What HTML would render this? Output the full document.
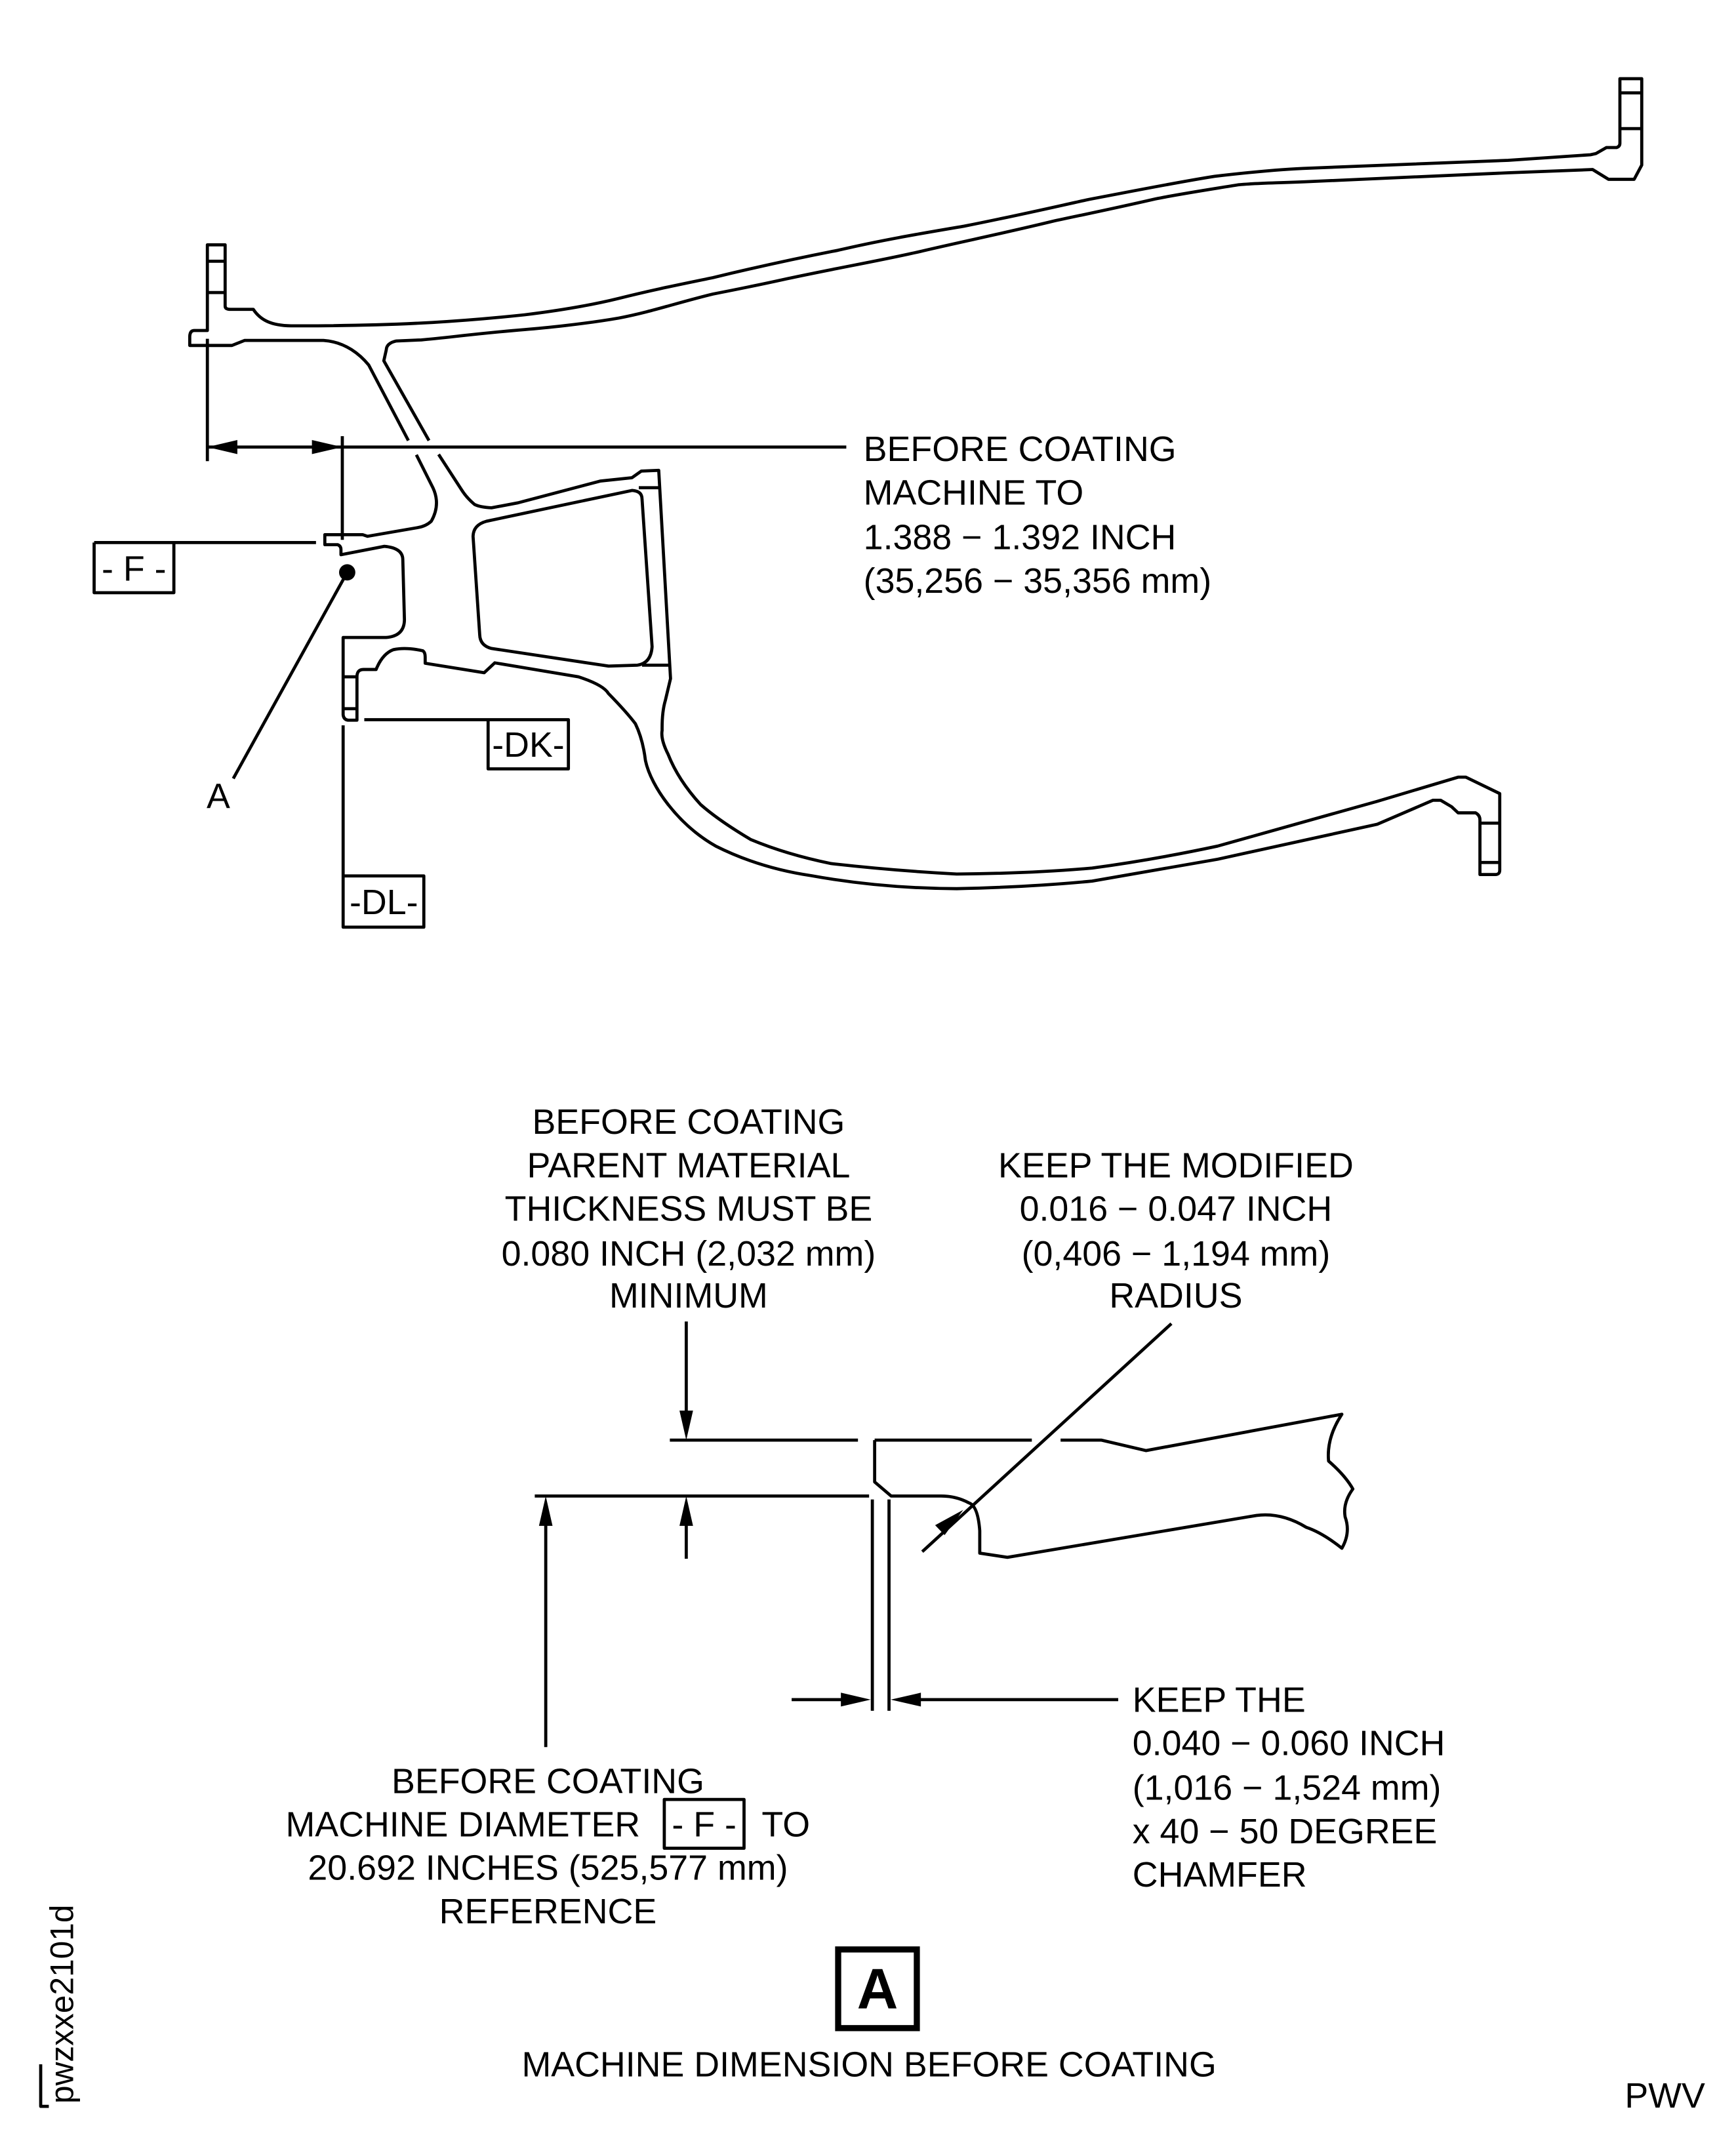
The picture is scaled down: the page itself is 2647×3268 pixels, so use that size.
<!DOCTYPE html>
<html><head><meta charset="utf-8"><style>
html,body{margin:0;padding:0;background:#fff;}
svg{display:block;}
text{font-family:"Liberation Sans",Arial,sans-serif;font-size:26px;fill:#000;}
</style></head><body>
<svg width="2647" height="3268" viewBox="0 0 1280 1580" preserveAspectRatio="none" xmlns="http://www.w3.org/2000/svg">
<g fill="none" stroke="#000" stroke-width="2.3" stroke-linejoin="round">
<!-- upper skin -->
<path d="M301.1,324.8 L271.9,269.2 C266,262 255,252 238.5,251 L180.3,251 L171,254.7 L139.9,254.7 L139.9,248.2 Q140,243.7 143.3,243.7 L152.9,243.7 L152.9,180.5 L166,180.5 L166,225.7 Q166,228.1 170.1,228.1 L186.8,228.1 C192,236 200,240 214.5,240.2 C300,240.5 350,236 386.8,232.1 C420,228 440,224 456.2,220 C480,214 500,210 525.6,204.7 C570,194 600,188 618,184.5 C650,177 680,172 710.6,166.8 C750,159 780,152 803,147 C840,140 870,134 895.6,130 C930,126 950,124.5 965,124 L1112,118.2 L1172.7,114.1 L1176.7,113.2 L1184.4,108.8 L1192,108.8 Q1194.4,108 1194.4,105.6 L1194.4,58 L1210.5,58 L1210.5,121.7 L1204.9,132.2 L1186,132.2 L1174.3,125 L1112,127.4 L967,133.8 C940,135 925,135 913.3,136.2 C890,140 870,143 851.7,146.7 C820,154 800,158 777.7,162.8 C740,172 710,178 679,185.3 C650,192 620,197 580.3,205.5 C560,210 540,214 525.6,216.8 C500,223 480,230 456.2,234.5 C430,239 400,242 386.8,243 C350,246 330,249 310.7,250.6 L292.2,251.4 Q285,253 284.8,258 L283,266 L316.3,324.8"/>
<path d="M152.9,192.6 H166 M152.9,215.7 H166 M1194.4,68.5 H1210.5 M1194.4,94.8 H1210.5"/>
<!-- lower body -->
<path d="M307,335.3 L319.2,359.6 Q325,372 318,384.3 Q314,388 308,389 L271,395.4 L267.4,394.2 L239.5,394.2 L239.5,401.6 L249,401.6 Q251.4,402.5 251.4,405.3 L251.4,409 L283.4,402.8 Q297,404 297,412.7 L298.2,457 Q298,469 284.7,470 L253,470 L253,527 Q253.5,531 257.5,531 L263.2,531 L263.2,499 Q263.2,493.6 268,493.6 L277.3,493.6 Q282,482 290,479 Q299,477 311.8,479.8 Q313.5,481 313.5,484.3 L313.5,489 L357,496 L364.8,488.7 L426.5,499 Q445,505 448.7,511.4 Q462,525 468.5,533.6 Q474,545 475.9,560.7 C480,580 500,608 527.7,623.8 Q560,640 598,645.6 Q650,655 705.4,655.2 Q760,654 805.3,649.6 Q850,642 897.8,633.5 L1015.5,607.7 L1056.6,590 L1062.2,590 L1070.3,594.8 L1075.1,599.3 L1088,599.3 Q1091.2,601 1091.2,604.5 L1091.2,644.8 L1102.5,644.8 Q1105.8,644.8 1105.8,641.5 L1105.8,585.1 L1080.8,573 L1075.1,573 L1015.5,590.8 L897.8,623.8 Q850,634 805.3,640 Q760,644 705.4,644.4 Q660,642 612.8,636.7 Q580,630 553.6,619 Q530,605 516.6,593.2 Q500,575 492.6,556.1 Q487,545 488.2,538.5 Q488,525 490.6,516.3 L494.4,500.3 L485.7,346.8 L472.9,347.3 L466,352.2 L442.5,354.7 L382,370.7 L362.4,374.4 Q354,374 350,372 Q344,367 340.2,360.9 L323.4,335"/>
<path d="M253,499 H263.2 M253,522.5 H263.2 M471,359.6 H485.7 M473.4,490.4 H493.1 M1091.2,606.9 H1105.8 M1091.2,635.9 H1105.8"/>
<path d="M348.8,395.4 Q349,387 358.7,384.3 L466,361.6 Q473.4,362 473.4,368 L480.8,476.8 Q480,489 470,490.4 L448.7,491.1 L362.4,478.1 Q354,476 353.7,468 Z"/>
<!-- dims top -->
<path d="M152.9,249.8 V340 M152.9,329.6 H624 M252.4,321.6 V398"/>
<path d="M69.4,400 H233 M69.4,400 V437 H128.2 V400"/>
<path d="M256,422 L172,574"/>
<path d="M268.6,530.6 H419.1 V566.9 H359.9 V530.6"/>
<path d="M253,534.8 V683.6 H312.5 V645.8 H253"/>
<!-- detail view -->
<path d="M493.9,1061.8 H632.6 M644.9,1061.8 H760.8 M782,1061.8 H812.2 L844.9,1069.5 L989.4,1042.7 Q978,1060 979.6,1077.2 Q992,1088 997.5,1097.8 Q990,1108 991.8,1118.4 Q996,1130 989.4,1141.5 Q975,1130 963,1126 Q945,1115 926.5,1117.3 L742.8,1148.2 L722.4,1145.1 L722.4,1128.6 Q721,1110 714.3,1108 Q705,1103 693.9,1103 L657.1,1103 L644.9,1092.6 L644.9,1061.8"/>
<path d="M394.3,1103 H640.8 M643.2,1105.5 V1261.3 M655.5,1105.5 V1261.3"/>
<path d="M583.7,1253.1 H630 M824.5,1253.1 H668 M506,974.3 V1050 M506,1149.2 V1116 M402.4,1288.1 V1116 M863.7,975.9 L680,1144"/>
<path d="M489.8,1326.7 H548.6 V1362.7 H489.8 Z"/>
<path d="M30,1522 V1553 H36"/>
</g>
<g fill="#000" stroke="none">
<polygon points="152.9,329.6 175,324.4 175,334.8"/>
<polygon points="252.4,329.6 230,324.4 230,334.8"/>
<circle cx="256" cy="422" r="6"/>
<polygon points="506,1061.8 501,1040 511,1040"/>
<polygon points="506,1103 501,1125 511,1125"/>
<polygon points="402.4,1103 397.4,1125 407.4,1125"/>
<polygon points="642,1253.1 620,1248 620,1258.2"/>
<polygon points="656.7,1253.1 679,1248 679,1258.2"/>
<polygon points="710.2,1113.2 689.5,1124.5 696.5,1131.8"/>
</g>
<rect x="618" y="1437.3" width="58" height="58" fill="none" stroke="#000" stroke-width="4.5"/>
<text x="636.7" y="340">BEFORE COATING</text>
<text x="636.7" y="372">MACHINE TO</text>
<text x="636.7" y="405">1.388 − 1.392 INCH</text>
<text x="636.7" y="437">(35,256 − 35,356 mm)</text>
<text x="98.8" y="428" text-anchor="middle">- F -</text>
<text x="389.5" y="558" text-anchor="middle">-DK-</text>
<text x="283" y="674" text-anchor="middle">-DL-</text>
<text x="161" y="596" text-anchor="middle">A</text>
<g text-anchor="middle">
<text x="507.7" y="836">BEFORE COATING</text>
<text x="507.7" y="868">PARENT MATERIAL</text>
<text x="507.7" y="900">THICKNESS MUST BE</text>
<text x="507.7" y="933">0.080 INCH (2,032 mm)</text>
<text x="507.7" y="964">MINIMUM</text>
<text x="867" y="868">KEEP THE MODIFIED</text>
<text x="867" y="900">0.016 − 0.047 INCH</text>
<text x="867" y="933">(0,406 − 1,194 mm)</text>
<text x="867" y="964">RADIUS</text>
<text x="404" y="1322">BEFORE COATING</text>
<text x="404" y="1386">20.692 INCHES (525,577 mm)</text>
<text x="404" y="1418">REFERENCE</text>
<text x="640.8" y="1531">MACHINE DIMENSION BEFORE COATING</text>
<text x="647" y="1481" style="font-size:42px;font-weight:bold">A</text>
</g>
<text x="210.6" y="1354">MACHINE DIAMETER</text>
<text x="519.2" y="1354" text-anchor="middle">- F -</text>
<text x="561.6" y="1354">TO</text>
<text x="835" y="1262">KEEP THE</text>
<text x="835" y="1294">0.040 − 0.060 INCH</text>
<text x="835" y="1327">(1,016 − 1,524 mm)</text>
<text x="835" y="1359">x 40 − 50 DEGREE</text>
<text x="835" y="1391">CHAMFER</text>
<text x="1198" y="1554">PWV</text>
<text transform="translate(54,1551) rotate(-90)" style="font-size:24px">pwzxxe2101d</text>
</svg>
</body></html>
